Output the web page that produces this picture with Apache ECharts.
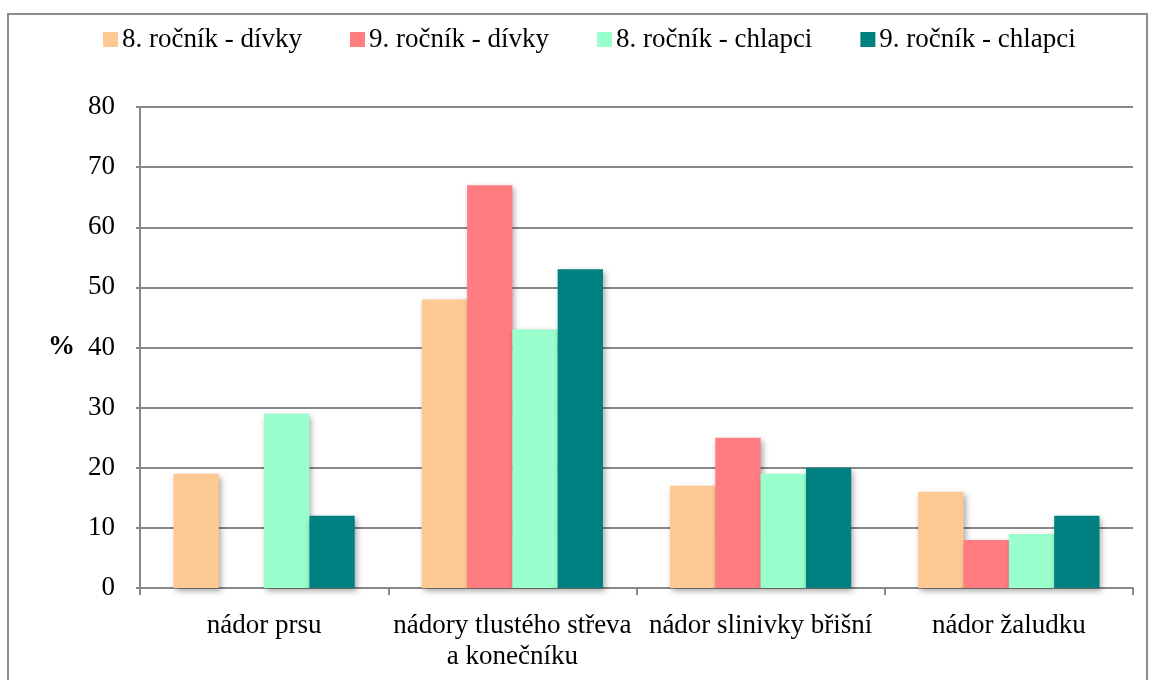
<!DOCTYPE html>
<html>
<head>
<meta charset="utf-8">
<script src="https://cdn.jsdelivr.net/npm/echarts@6/dist/echarts.min.js"></script>
<style>
  html, body { margin: 0; padding: 0; background: #fff; }
  #chart { width: 1150px; height: 680px; }
</style>
</head>
<body>
<div id="chart"></div>
<script>
// kategorie a hodnoty (v %)
var categories = ['nádor prsu', 'nádory tlustého střeva\na konečníku', 'nádor slinivky břišní', 'nádor žaludku'];
var divky8 = [19, 48, 17, 16];
var divky9 = [0, 67, 25, 8];
var chlapci8 = [29, 43, 19, 9];
var chlapci9 = [12, 53, 20, 12];
var seriesNames = ['8. ročník - dívky', '9. ročník - dívky', '8. ročník - chlapci', '9. ročník - chlapci'];
var colors = ['#FFC993', '#FF7C80', '#99FFCC', '#008080'];

var font = '"Liberation Serif", "DejaVu Serif", serif';
var myChart = echarts.init(document.getElementById('chart'));

function bar(name, data, color) {
  return {
    name: name,
    type: 'bar',
    data: data,
    barGap: '0%',
    barCategoryGap: '27%',
    itemStyle: {
      color: color,
      shadowColor: 'rgba(0,0,0,0.35)',
      shadowBlur: 6,
      shadowOffsetX: 2,
      shadowOffsetY: 3
    }
  };
}

myChart.setOption({
  color: colors,
  animation: false,
  textStyle: { fontFamily: font },
  graphic: [{
    type: 'rect',
    shape: { x: 8, y: 14, width: 1139, height: 700 },
    style: { fill: 'none', stroke: '#8c8c8c', lineWidth: 2 },
    silent: true
  }, {
    type: 'text',
    left: 48,
    top: 334,
    style: { text: '%', font: 'bold 27px ' + font, fill: '#000' }
  }],
  legend: {
    top: 26,
    left: 103,
    padding: 0,
    itemWidth: 15,
    itemHeight: 15,
    itemGap: 48,
    icon: 'rect',
    textStyle: { fontSize: 27, color: '#000', fontFamily: font, padding: [0, 0, 0, -1] },
    data: seriesNames
  },
  grid: { left: 140, right: 17, top: 107, bottom: 92 },
  xAxis: {
    type: 'category',
    data: categories,
    axisLine: { lineStyle: { color: '#888', width: 2 } },
    axisTick: { show: true, length: 7, lineStyle: { color: '#888', width: 2 } },
    axisLabel: { fontSize: 27, color: '#000', fontFamily: font, margin: 22, lineHeight: 31, interval: 0 }
  },
  yAxis: {
    type: 'value',
    min: 0,
    max: 80,
    interval: 10,
    axisLine: { show: true, lineStyle: { color: '#888', width: 2 } },
    axisTick: { show: true, length: 4, lineStyle: { color: '#888', width: 2 } },
    axisLabel: { fontSize: 27, color: '#000', fontFamily: font, margin: 25 },
    splitLine: { lineStyle: { color: '#888', width: 2 } }
  },
  series: [
    bar(seriesNames[0], divky8, colors[0]),
    bar(seriesNames[1], divky9, colors[1]),
    bar(seriesNames[2], chlapci8, colors[2]),
    bar(seriesNames[3], chlapci9, colors[3])
  ]
});
</script>
</body>
</html>
